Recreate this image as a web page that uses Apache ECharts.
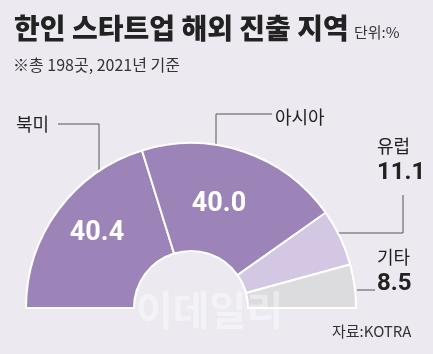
<!DOCTYPE html>
<html>
<head>
<meta charset="utf-8">
<script src="https://cdn.jsdelivr.net/npm/echarts@6/dist/echarts.min.js"></script>
<style>
  html, body { margin: 0; padding: 0; background: #ece9f0; }
  #chart { width: 433px; height: 354px; }
</style>
</head>
<body>
<div id="chart"></div>
<script>
const regions = ['북미', '아시아', '유럽', '기타']
const shares = [40.4, 40.0, 11.1, 8.5]
const sliceColors = ['#9c84b8', '#9c84b8', '#d4c7e3', '#dcdcde']

const KR = "'Noto Sans CJK KR', sans-serif"
const NUM = "Roboto, sans-serif"

// where each label sits and how its leader line runs
const innerPos = [[97, 233], [219, 204]]
const outerPos = [
  { x: 16, y: 124, align: 'left', line: [[99, 185], [99, 124], [58, 124]] },
  { x: 275, y: 117, align: 'left', line: [[216, 147], [216, 114], [272, 114]] },
  { x: 377, y: 160, align: 'left', line: [[337, 233], [403, 233], [403, 195]] },
  { x: 377, y: 271, align: 'left', line: [[357, 290], [366, 290], [375, 290]] }
]

const chart = echarts.init(document.getElementById('chart'))

const sliceData = regions.map((name, i) => ({
  name,
  value: shares[i],
  itemStyle: { color: sliceColors[i] },
  label: { show: i < 2 }
}))

const labelData = regions.map((name, i) => ({
  name,
  value: shares[i]
}))

chart.setOption({
  backgroundColor: '#ece9f0',
  graphic: [
    {
      type: 'text', left: 14, top: 14,
      style: { text: '한인 스타트업 해외 진출 지역', font: `900 28px ${KR}`, fill: '#222' }
    },
    {
      type: 'text', left: 354, top: 25,
      style: { text: '단위:%', font: `15px ${KR}`, fill: '#333' }
    },
    {
      type: 'text', left: 13, top: 57,
      style: { text: '※총 198곳, 2021년 기준', font: `16px ${KR}`, fill: '#333' }
    },
    {
      type: 'text', left: 332, top: 324,
      style: { text: '자료:KOTRA', font: `15px ${KR}`, fill: '#333' }
    },
    {
      type: 'text', left: 136, top: 290, z: 10,
      style: { text: '이데일리', font: `bold 40px ${KR}`, fill: 'rgba(255,255,255,0.4)' }
    }
  ],
  series: [
    {
      type: 'pie',
      center: [191, 308],
      radius: [57, 165],
      startAngle: 180,
      endAngle: 0,
      clockwise: true,
      silent: true,
      avoidLabelOverlap: false,
      itemStyle: { borderColor: '#fff', borderWidth: 2 },
      label: {
        position: 'inside',
        formatter: p => p.value.toFixed(1),
        color: '#fff',
        fontFamily: NUM,
        fontWeight: 'bold',
        fontSize: 27
      },
      labelLine: { show: false },
      labelLayout: p => {
        const pos = innerPos[p.dataIndex]
        if (!pos) return {}
        return { x: pos[0], y: pos[1], align: 'center', verticalAlign: 'middle' }
      },
      data: sliceData
    },
    {
      type: 'pie',
      center: [191, 308],
      radius: [57, 165],
      startAngle: 180,
      endAngle: 0,
      clockwise: true,
      silent: true,
      avoidLabelOverlap: false,
      itemStyle: { color: 'transparent', borderWidth: 0 },
      label: {
        position: 'outside',
        formatter: p => p.dataIndex < 2
          ? `{n|${p.name}}`
          : `{n|${p.name}}\n{v|${p.value.toFixed(1)}}`,
        rich: {
          n: { fontFamily: KR, fontSize: 18, color: '#222', lineHeight: 26 },
          v: { fontFamily: NUM, fontWeight: 'bold', fontSize: 24, color: '#222', lineHeight: 28 }
        }
      },
      labelLine: { show: true, lineStyle: { color: '#555', width: 1 } },
      labelLayout: p => {
        const o = outerPos[p.dataIndex]
        return {
          x: o.x, y: o.y, align: o.align, verticalAlign: 'middle',
          labelLinePoints: o.line
        }
      },
      data: labelData
    }
  ]
})
</script>
</body>
</html>
